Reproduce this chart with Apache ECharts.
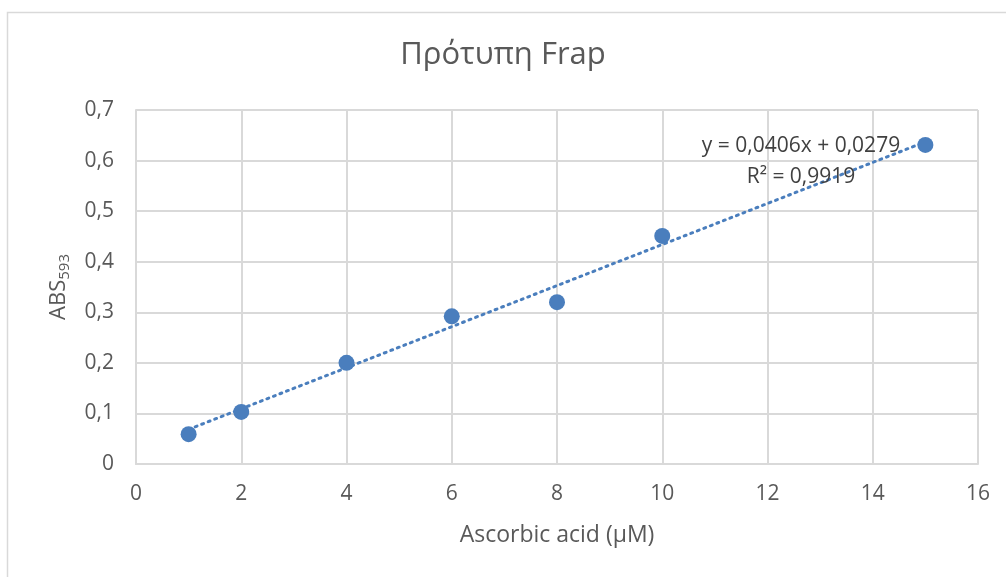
<!DOCTYPE html>
<html><head><meta charset="utf-8">
<script src="https://cdn.jsdelivr.net/npm/echarts@6/dist/echarts.min.js"></script>
<style>html,body{margin:0;padding:0;background:#fff}#c{width:1006px;height:577px}</style>
</head><body><div id="c"></div>
<script>
const xValues = [1, 2, 4, 6, 8, 10, 15];
const absValues = [0.059, 0.103, 0.200, 0.292, 0.320, 0.451, 0.631];
const trendX = [1, 15];
const trendY = [0.0685, 0.637];
const xTicks = [0, 2, 4, 6, 8, 10, 12, 14, 16];
const yTicks = ['0', '0,1', '0,2', '0,3', '0,4', '0,5', '0,6', '0,7'];
const eqLine1 = 'y = 0,0406x + 0,0279';
const eqLine2 = 'R² = 0,9919';

const font = '"Open Sans", "Noto Sans", sans-serif';
const blue = '#4a7ebd';
const chart = echarts.init(document.getElementById('c'));
chart.setOption({
  animation: false,
  textStyle: { fontFamily: font },
  title: {
    text: 'Πρότυπη Frap', left: 'center', top: 35,
    textStyle: { fontFamily: font, fontSize: 31, fontWeight: 'normal', color: '#595959' }
  },
  grid: { left: 136, right: 28, top: 110, bottom: 113 },
  xAxis: {
    type: 'value', min: 0, max: 16, interval: 2,
    name: 'Ascorbic acid (μM)', nameLocation: 'middle', nameGap: 60,
    nameTextStyle: { fontSize: 23, color: '#595959', fontFamily: font },
    axisLine: { show: true, lineStyle: { color: '#d9d9d9', width: 2 } },
    axisTick: { show: false },
    splitLine: { show: true, lineStyle: { color: '#d9d9d9', width: 2 } },
    axisLabel: { margin: 20, fontSize: 21, color: '#595959', fontFamily: font,
      formatter: v => String(xTicks[xTicks.indexOf(v)]) }
  },
  yAxis: {
    type: 'value', min: 0, max: 0.7, interval: 0.1,
    name: '{a|ABS}{s|593}', nameLocation: 'middle', nameGap: 64, nameRotate: 90,
    nameTextStyle: { rich: {
      a: { fontSize: 22, color: '#595959', fontFamily: font },
      s: { fontSize: 15, color: '#595959', fontFamily: font, verticalAlign: 'bottom', padding: [12, 0, 0, 0] }
    } },
    axisLine: { show: true, lineStyle: { color: '#d9d9d9', width: 2 } },
    axisTick: { show: false },
    splitLine: { show: true, lineStyle: { color: '#d9d9d9', width: 2 } },
    axisLabel: { margin: 22, fontSize: 21, color: '#595959', fontFamily: font,
      formatter: v => yTicks[Math.round(v * 10)] }
  },
  series: [
    {
      type: 'line', data: trendX.map((x, i) => [x, trendY[i]]),
      symbol: 'none', z: 3,
      lineStyle: { color: blue, width: 3, type: [2, 5], cap: 'round' }
    },
    {
      type: 'scatter', data: xValues.map((x, i) => [x, absValues[i]]),
      symbol: 'circle', symbolSize: 16, z: 4,
      itemStyle: { color: blue, opacity: 1 }
    }
  ],
  graphic: [
    { type: 'rect', left: 5, top: 10, z: -1, silent: true,
      shape: { width: 1010, height: 580 },
      style: { fill: 'none', stroke: '#d9d9d9', lineWidth: 1.5 } },
    { type: 'text', x: 801, y: 146, z: 10,
      style: { text: eqLine1, fontSize: 21, fill: '#404040', fontFamily: font, align: 'center', verticalAlign: 'middle' } },
    { type: 'text', x: 801, y: 177, z: 10,
      style: { text: eqLine2, fontSize: 21, fill: '#404040', fontFamily: font, align: 'center', verticalAlign: 'middle' } }
  ]
});
</script></body></html>
